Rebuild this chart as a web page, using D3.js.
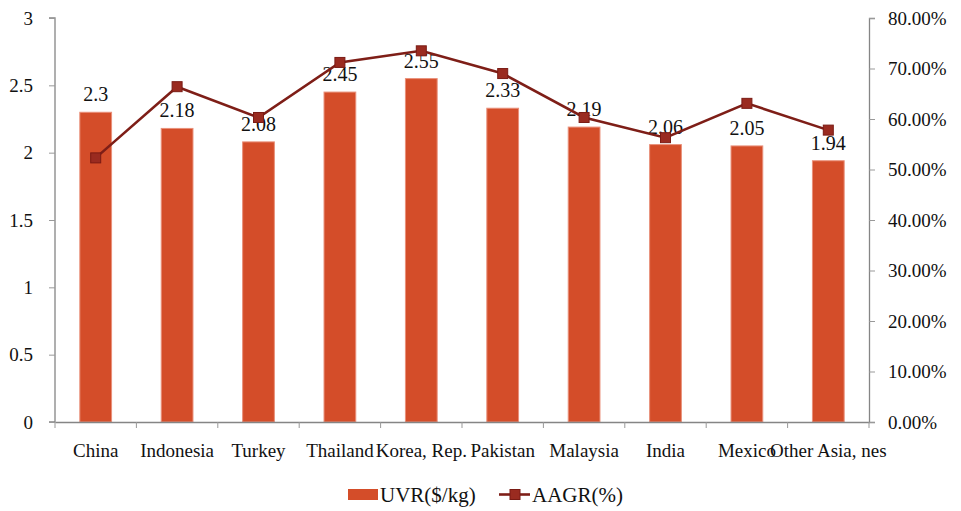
<!DOCTYPE html>
<html><head><meta charset="utf-8">
<script src="https://cdn.jsdelivr.net/npm/d3@7"></script>
<style>body{margin:0;background:#fff}svg{display:block}text{font-family:"Liberation Serif","DejaVu Serif",serif}</style>
</head><body><svg id="c" width="961" height="511"></svg>
<script>
const categories = ["China","Indonesia","Turkey","Thailand","Korea, Rep.","Pakistan","Malaysia","India","Mexico","Other Asia, nes"];
const uvr = [2.3,2.18,2.08,2.45,2.55,2.33,2.19,2.06,2.05,1.94];
const aagr = [52.3,66.4,60.3,71.2,73.5,69.0,60.3,56.3,63.1,57.8];
const leftTicks = [0,0.5,1,1.5,2,2.5,3];
const rightTicks = [0,10,20,30,40,50,60,70,80];
const seriesNames = ["UVR($/kg)","AAGR(%)"];

const svg = d3.select("#c");
const L = 55, R = 869, T = 18, B = 422;
const x = d3.scaleBand().domain(categories).range([L,R]).paddingInner(0.61).paddingOuter(0.305);
const xb = d3.scaleBand().domain(categories).range([L,R]);
const yL = d3.scaleLinear().domain([0,3]).range([B,T]);
const yR = d3.scaleLinear().domain([0,80]).range([B,T]);
const barC = "#D44D29", lineC = "#7E1E17", markC = "#9A2B20";

// bars
svg.append("g").selectAll("rect").data(uvr).join("rect")
  .attr("x",(d,i)=>x(categories[i])).attr("width",x.bandwidth())
  .attr("y",d=>yL(d)).attr("height",d=>B-yL(d))
  .attr("fill",barC).attr("stroke","#E9907A").attr("stroke-width",1);

// axes
const gl = svg.append("g").attr("transform",`translate(${L},0)`)
  .call(d3.axisLeft(yL).tickValues(leftTicks).tickSize(6).tickPadding(16).tickFormat(d3.format("")));
const gr = svg.append("g").attr("transform",`translate(${R},0)`)
  .call(d3.axisRight(yR).tickValues(rightTicks).tickSize(6).tickPadding(13).tickFormat(d=>d.toFixed(2)+"%"));
const gb = svg.append("g").attr("transform",`translate(0,${B})`)
  .call(d3.axisBottom(xb).tickSize(0).tickPadding(22));
[gl,gr,gb].forEach(g=>{
  g.select(".domain").attr("stroke","#858585").attr("stroke-width",1.3);
  g.selectAll(".tick line").attr("stroke","#999");
  g.selectAll("text").attr("fill","#111").style("font-size","19px");
});
// bottom ticks at band edges
svg.append("g").selectAll("line").data(categories.concat(["_end"])).join("line")
  .attr("x1",(d,i)=>L+i*xb.step()).attr("x2",(d,i)=>L+i*xb.step())
  .attr("y1",B).attr("y2",B+6).attr("stroke","#999");
gl.select(".domain").attr("d",`M-6,${T}H0V${B}H-6`);

// bar labels
svg.append("g").selectAll("text").data(uvr).join("text")
  .attr("x",(d,i)=>x(categories[i])+x.bandwidth()/2).attr("y",d=>yL(d)-11)
  .attr("text-anchor","middle").attr("fill","#111").style("font-size","20px")
  .text(d=>d);

// line
const line = d3.line().x((d,i)=>xb(categories[i])+xb.bandwidth()/2).y(d=>yR(d));
svg.append("path").datum(aagr).attr("d",line).attr("fill","none").attr("stroke",lineC).attr("stroke-width",2.6);
svg.append("g").selectAll("rect").data(aagr).join("rect")
  .attr("x",(d,i)=>xb(categories[i])+xb.bandwidth()/2-5).attr("y",d=>yR(d)-5)
  .attr("width",10).attr("height",10).attr("fill",markC).attr("stroke","#7A1B14").attr("stroke-width",1);

// legend
const lg = svg.append("g");
lg.append("rect").attr("x",348).attr("y",489).attr("width",30).attr("height",11).attr("fill",barC);
lg.append("text").attr("x",380).attr("y",502).style("font-size","21px").attr("fill","#111").text(seriesNames[0]);
lg.append("line").attr("x1",499).attr("x2",530).attr("y1",494.5).attr("y2",494.5).attr("stroke",lineC).attr("stroke-width",2.6);
lg.append("rect").attr("x",510).attr("y",489.5).attr("width",10).attr("height",10).attr("fill",markC).attr("stroke","#7A1B14");
lg.append("text").attr("x",532).attr("y",502).style("font-size","21px").attr("fill","#111").text(seriesNames[1]);
</script></body></html>
